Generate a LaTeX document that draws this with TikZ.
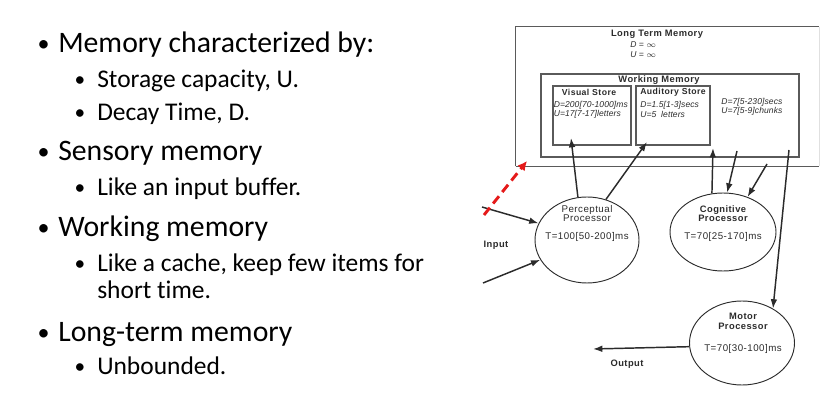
\documentclass[tikz,border=0pt]{standalone}
\usepackage{fontspec}
\setmainfont{Carlito}[Ligatures=NoCommon]
\newfontfamily\diagfont[LetterSpace=5]{Liberation Sans}
\newfontfamily\datafont[LetterSpace=1]{Liberation Sans}
\usetikzlibrary{shapes.geometric,arrows.meta}
\definecolor{ink}{HTML}{2B2B2B}
\definecolor{boxgray}{HTML}{5A5A5A}
\definecolor{alertred}{HTML}{E51A1A}

\begin{document}
\begin{tikzpicture}[x=0.75pt,y=-0.75pt,
  lvlone/.style={anchor=base west, inner sep=0, font=\fontsize{22.3}{26}\selectfont},
  lvltwo/.style={anchor=base west, inner sep=0, font=\fontsize{19.1}{22}\selectfont},
  bulone/.style={anchor=base, inner sep=0, font=\fontsize{18}{25}\selectfont},
  bultwo/.style={anchor=base, inner sep=0, font=\fontsize{16}{20}\selectfont},
  memframe/.style={draw=boxgray, line width=0.8pt, inner sep=0},
  proc/.style={ellipse, draw=ink, line width=0.7pt, inner sep=0},
  title/.style={inner sep=0, align=center, text=ink, font=\diagfont\bfseries\fontsize{7}{8}\selectfont},
  plain/.style={inner sep=0, align=center, text=ink, font=\diagfont\fontsize{7.3}{8.3}\selectfont},
  datum/.style={anchor=west, inner sep=0, text=ink, font=\datafont\itshape\fontsize{6.4}{7}\selectfont},
  flow/.style={draw=ink, line width=1.1pt, -{Latex[length=7pt,width=5pt]}},
  reddash/.style={draw=alertred, line width=2.2pt, dash pattern=on 7pt off 4pt,
                  -{Latex[length=7pt,width=7pt]}}]
\useasboundingbox (0,0) rectangle (840,413);

% ---- bullet list ----
\node[bulone] (b1) at (43.5,52) {•};
\node[lvlone] (t1) at (58,53) {Memory characterized by:};
\node[bultwo] (b2) at (80,87) {•};
\node[lvltwo] (t2) at (97,88) {Storage capacity, U.};
\node[bultwo] (b3) at (80,120) {•};
\node[lvltwo] (t3) at (97,121) {Decay Time, D.};
\node[bulone] (b4) at (43.5,160) {•};
\node[lvlone] (t4) at (58,161) {Sensory memory};
\node[bultwo] (b5) at (80,195) {•};
\node[lvltwo] (t5) at (97,196) {Like an input buffer.};
\node[bulone] (b6) at (43.5,236) {•};
\node[lvlone] (t6) at (58,237) {Working memory};
\node[bultwo] (b7) at (80,271) {•};
\node[lvltwo] (t7) at (97,272) {Like a cache, keep few items for};
\node[lvltwo] (t7b) at (97,299) {short time.};
\node[bulone] (b8) at (43.5,341) {•};
\node[lvlone] (t8) at (58,342) {Long-term memory};
\node[bultwo] (b9) at (80,374) {•};
\node[lvltwo] (t9) at (97,375) {Unbounded.};

% ---- memory stores ----
\node[inner sep=0, minimum width=227.25pt, minimum height=104.25pt] (ltm) at (667.5,96.5) {};
\draw[draw=boxgray, line width=0.8pt] (ltm.south west) -- (ltm.north west) -- (ltm.north east);
\draw[draw=boxgray, line width=0.8pt] (ltm.south west) -- (ltm.south east);
\draw[draw=black!12, line width=0.6pt] (ltm.north east) -- (ltm.south east);
\node[title] (ltmname) at (657,34) {Long Term Memory};
\node[datum] (ltmd) at (630,45) {D = $\infty$};
\node[datum] (ltmu) at (630,55) {U = $\infty$};

\node[memframe, minimum width=193.5pt, minimum height=62.25pt] (wm) at (670,115.5) {};
\node[title] (wmname) at (659,80) {Working Memory};
\node[memframe, minimum width=58.5pt, minimum height=44.25pt] (vis) at (592,115.5) {};
\node[title, font=\diagfont\bfseries\fontsize{6.5}{7}\selectfont] (visname) at (589,92) {Visual Store};
\node[datum] (visd) at (553.5,105) {D=200[70-1000]ms};
\node[datum] (visu) at (553.5,114) {U=17[7-17]letters};
\node[memframe, minimum width=55.5pt, minimum height=44.25pt] (aud) at (673,115.5) {};
\node[title, font=\diagfont\bfseries\fontsize{6.5}{7}\selectfont] (audname) at (673,92) {Auditory Store};
\node[datum] (audd) at (640,105) {D=1.5[1-3]secs};
\node[datum] (audu) at (640,114) {U=5\ \ letters};
\node[datum] (wmd) at (721,102) {D=7[5-230]secs};
\node[datum] (wmu) at (721,111) {U=7[5-9]chunks};

% ---- processors ----
\node[proc, minimum width=78pt, minimum height=64.5pt] (perc) at (587,240) {};
\node[plain] (percname) at (587,213.5) {Perceptual\\[-1pt]Processor};
\node[plain] (perct) at (587,237) {T=100[50-200]ms};
\node[proc, minimum width=79.5pt, minimum height=58.5pt] (cog) at (723,232) {};
\node[title] (cogname) at (723,213.5) {Cognitive\\[-1pt]Processor};
\node[plain] (cogt) at (723,237) {T=70[25-170]ms};
\node[proc, minimum width=78.75pt, minimum height=63pt] (mot) at (742,343) {};
\node[title] (motname) at (743,321.5) {Motor\\[-1pt]Processor};
\node[plain] (mott) at (743,349) {T=70[30-100]ms};

\node[title] (inlabel) at (496,245) {Input};
\node[title] (outlabel) at (627,364) {Output};

% ---- free ends of the connectors ----
\coordinate (inA) at (482,207);
\coordinate (inB) at (483,283);
\coordinate (sensA) at (484,215);
\coordinate (sensB) at (527,161);
\coordinate (visin) at (571,138);
\coordinate (audin) at (647,142);
\coordinate (wmin) at (713,148);
\coordinate (wmout) at (737,151);
\coordinate (ltmout) at (767,164);
\coordinate (motsrc) at (789,150);
\coordinate (outtip) at (593,349);

% ---- connectors ----
\draw[flow] (inA) -- (perc.161);
\draw[flow] (inB) -- (perc.203);
\draw[reddash] (sensA) -- (sensB);
\draw[flow] (perc.102) -- (visin);
\draw[flow] (perc.65) -- (audin);
\draw[flow] (cog.106) -- (wmin);
\draw[flow] (wmout) -- (cog.84);
\draw[flow] (ltmout) -- (cog.55);
\draw[flow] (motsrc) -- (mot.48);
\draw[flow] (mot.184) -- (outtip);
\end{tikzpicture}
\end{document}
